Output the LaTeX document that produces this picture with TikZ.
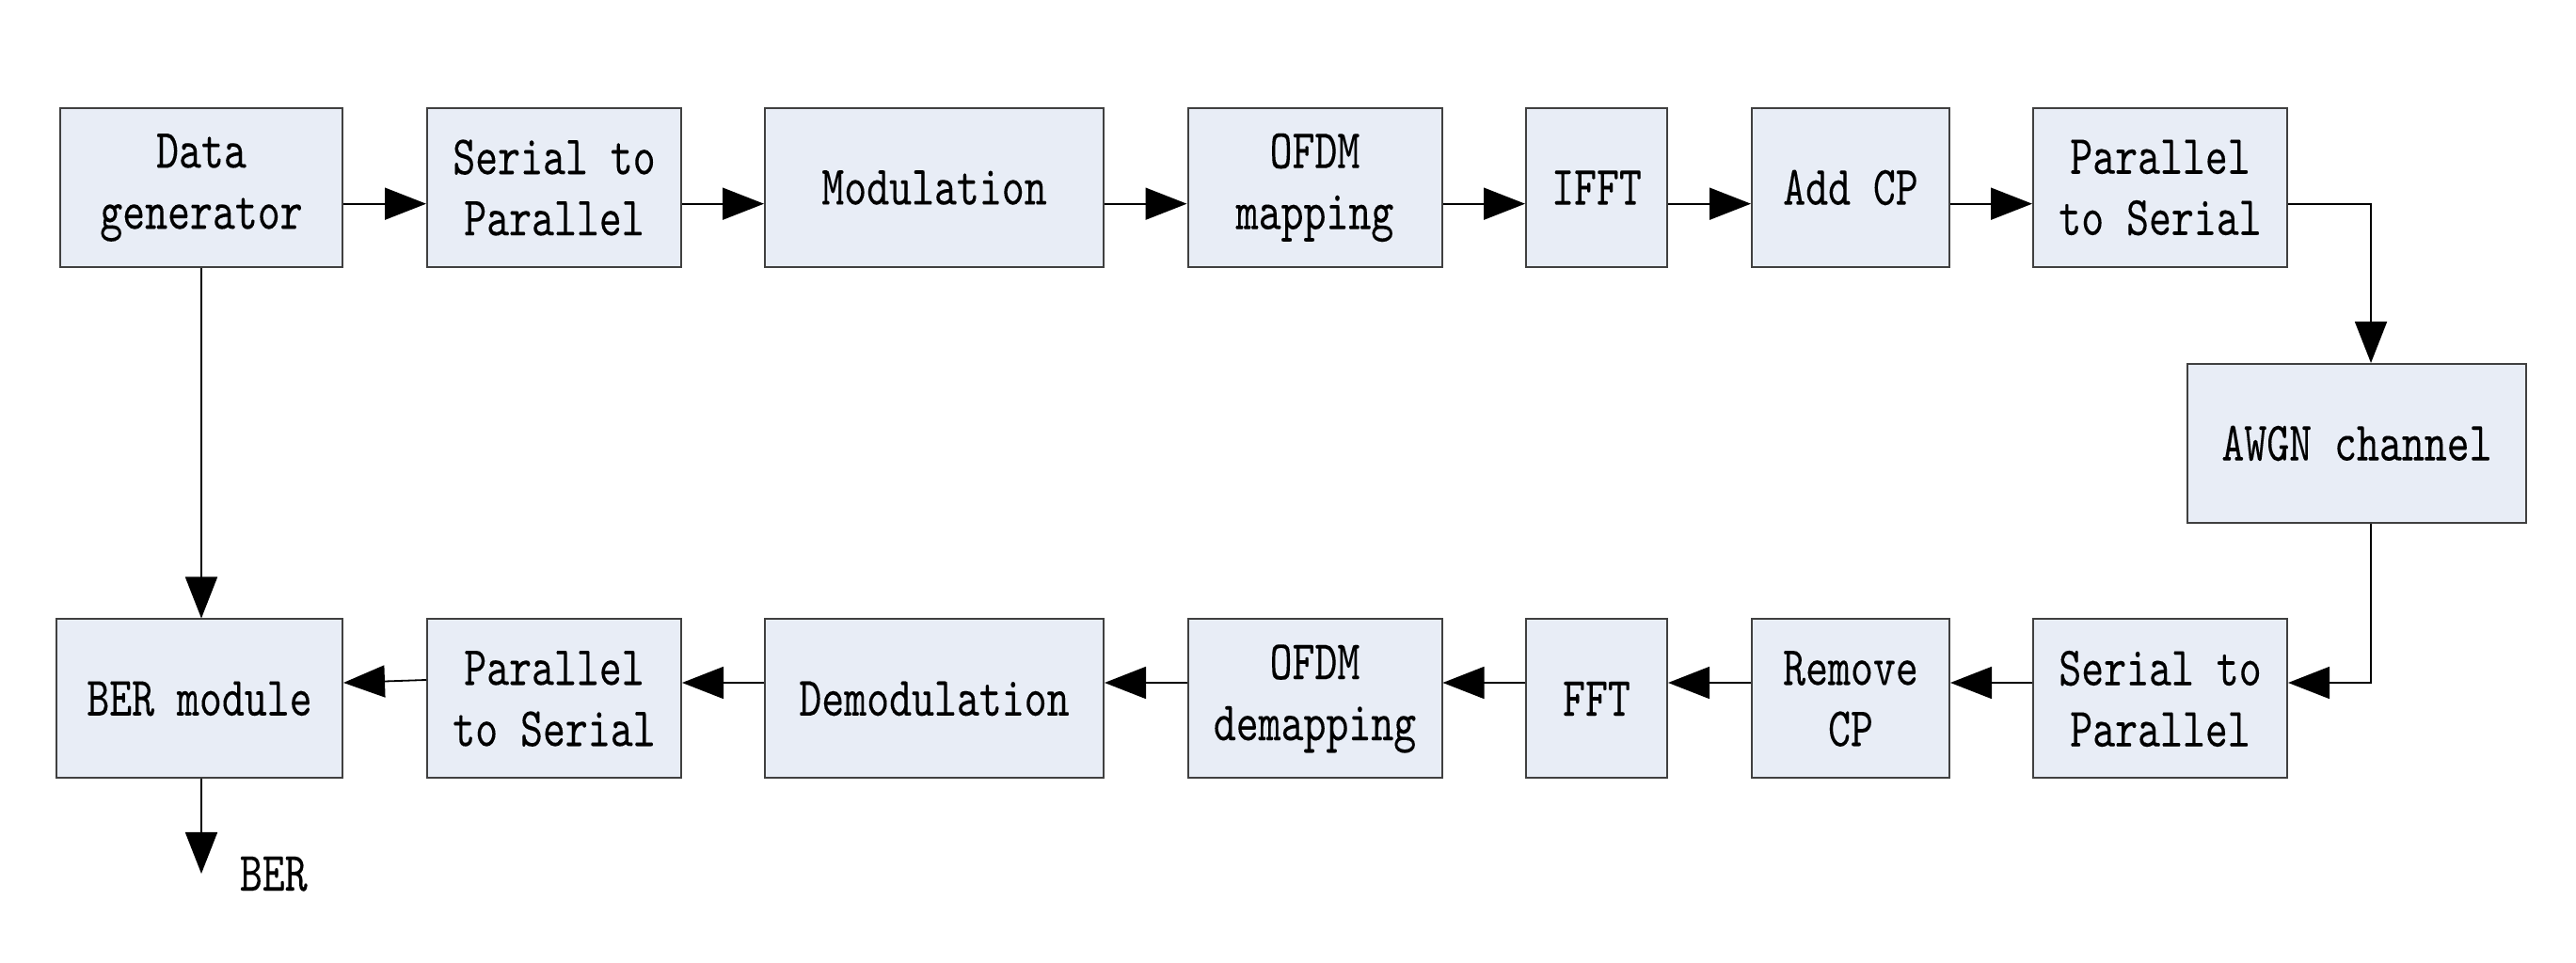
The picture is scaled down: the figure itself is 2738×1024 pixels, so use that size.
\documentclass[tikz,border=0pt]{standalone}
\usepackage{fontspec}
\usepackage{tikz}
\usetikzlibrary{arrows.meta}
\newfontfamily\blkfont[FakeStretch=0.77,FakeBold=0.1]{lmmono10-regular.otf}
\definecolor{blkfill}{RGB}{232,237,246}
\definecolor{blkline}{RGB}{64,64,64}

\begin{document}
\begin{tikzpicture}[x=0.25pt, y=-0.25pt, line width=0.45pt,
blk/.style={draw=blkline, line width=0.5pt, fill=blkfill, inner sep=0pt, minimum height=42.25pt, align=center, font=\blkfont\fontsize{14.8pt}{16.25pt}\selectfont},
>={Triangle[length=11pt,width=8.5pt]}]
%\draw [help lines, step=100] (0,0) grid (2738,1024);
\useasboundingbox (0,0) rectangle (2738,1024);
\node[blk, minimum width=75pt] (A) at (214,199.5) {Data\\generator};
\node[blk, minimum width=67.5pt] (B) at (589,199.5) {Serial to\\Parallel};
\node[blk, minimum width=90pt] (C) at (993,199.5) {Modulation};
\node[blk, minimum width=67.5pt] (D) at (1397.5,199.5) {OFDM\\mapping};
\node[blk, minimum width=37.5pt] (E) at (1697,199.5) {IFFT};
\node[blk, minimum width=52.5pt] (F) at (1967,199.5) {Add CP};
\node[blk, minimum width=67.5pt] (G) at (2296,199.5) {Parallel\\to Serial};
\node[blk, minimum width=90pt] (H) at (2505,471.5) {AWGN channel};
\node[blk, minimum width=76pt] (I) at (212,743) {BER module};
\node[blk, minimum width=67.5pt] (J) at (589,743) {Parallel\\to Serial};
\node[blk, minimum width=90pt] (K) at (993,743) {Demodulation};
\node[blk, minimum width=67.5pt] (L) at (1397.5,743) {OFDM\\demapping};
\node[blk, minimum width=37.5pt] (M) at (1697,743) {FFT};
\node[blk, minimum width=52.5pt] (N) at (1967,743) {Remove\\CP};
\node[blk, minimum width=67.5pt] (O) at (2296,743) {Serial to\\Parallel};
\coordinate (Z) at (214,929);
\node[anchor=base west, inner sep=0pt, font=\blkfont\fontsize{14.8pt}{16.25pt}\selectfont] (T) at (254,947) {BER};

\draw[->] ([yshift=-4.3pt]A.east) -- ([yshift=-4.3pt]B.west);
\draw[->] ([yshift=-4.3pt]B.east) -- ([yshift=-4.3pt]C.west);
\draw[->] ([yshift=-4.3pt]C.east) -- ([yshift=-4.3pt]D.west);
\draw[->] ([yshift=-4.3pt]D.east) -- ([yshift=-4.3pt]E.west);
\draw[->] ([yshift=-4.3pt]E.east) -- ([yshift=-4.3pt]F.west);
\draw[->] ([yshift=-4.3pt]F.east) -- ([yshift=-4.3pt]G.west);
\draw[->] ([yshift=-4.3pt]G.east) -| ([xshift=3.75pt]H.north);
\draw[->] ([xshift=3.75pt]H.south) |- ([yshift=4.25pt]O.east);
\draw[->] ([yshift=4.25pt]O.west) -- ([yshift=4.25pt]N.east);
\draw[->] ([yshift=4.25pt]N.west) -- ([yshift=4.25pt]M.east);
\draw[->] ([yshift=4.25pt]M.west) -- ([yshift=4.25pt]L.east);
\draw[->] ([yshift=4.25pt]L.west) -- ([yshift=4.25pt]K.east);
\draw[->] ([yshift=4.25pt]K.west) -- ([yshift=4.25pt]J.east);
\draw[->] ([yshift=5pt]J.west) -- ([yshift=4.25pt]I.east);
\draw[->] (A.south) -- (A.south |- I.north);
\draw[->] (Z |- I.south) -- (Z);

\end{tikzpicture}
\end{document}
